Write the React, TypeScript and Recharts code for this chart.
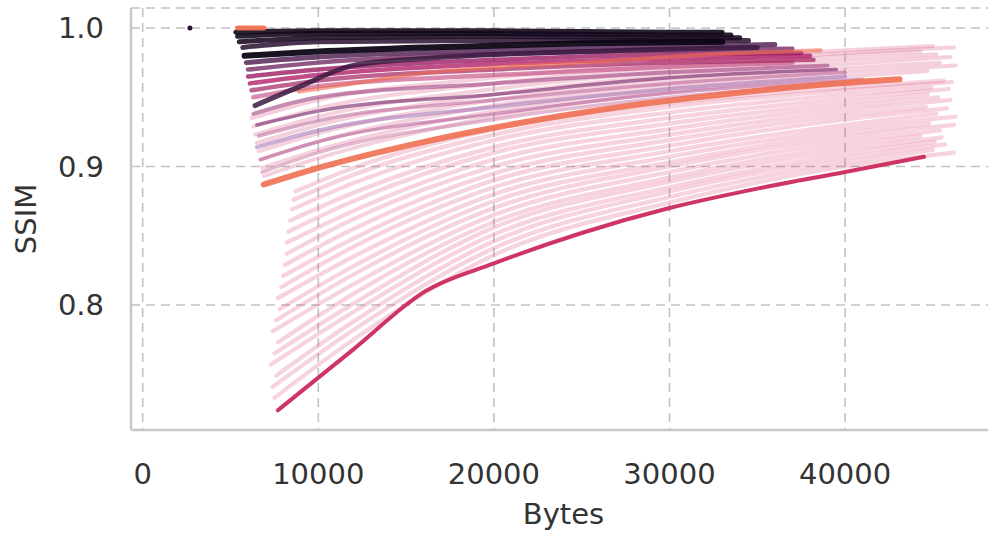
import React from "react";
import { ComposedChart, Line, XAxis, YAxis, CartesianGrid } from "recharts";

type Pt = [number, number]; // [bytes, ssim]

// faint pink runs between the crimson and the orange curve
const lowerRuns: Pt[][] = [
  [[7500, 0.733], [12000, 0.775], [20000, 0.836], [30000, 0.874], [40000, 0.9], [46200, 0.91]],
  [[7400, 0.741], [12000, 0.782], [20000, 0.841], [30000, 0.878], [40000, 0.903], [45000, 0.912]],
  [[7600, 0.749], [12000, 0.788], [20000, 0.846], [30000, 0.882], [40000, 0.906], [45700, 0.916]],
  [[7300, 0.757], [12000, 0.795], [20000, 0.851], [30000, 0.885], [40000, 0.909], [45100, 0.918]],
  [[7500, 0.765], [12000, 0.801], [20000, 0.856], [30000, 0.889], [40000, 0.912], [45500, 0.921]],
  [[7700, 0.773], [12000, 0.808], [20000, 0.86], [30000, 0.892], [40000, 0.915], [44300, 0.922]],
  [[7400, 0.781], [12000, 0.815], [20000, 0.865], [30000, 0.896], [40000, 0.918], [45400, 0.926]],
  [[7600, 0.789], [12000, 0.822], [20000, 0.87], [30000, 0.9], [40000, 0.921], [46200, 0.93]],
  [[7800, 0.797], [12000, 0.828], [20000, 0.875], [30000, 0.903], [40000, 0.924], [44800, 0.931]],
  [[7700, 0.805], [12000, 0.835], [20000, 0.88], [30000, 0.907], [40000, 0.927], [46300, 0.936]],
  [[7900, 0.813], [12000, 0.842], [20000, 0.885], [30000, 0.911], [40000, 0.93], [45200, 0.938]],
  [[8000, 0.821], [12000, 0.848], [20000, 0.89], [30000, 0.915], [40000, 0.934], [45800, 0.942]],
  [[8100, 0.829], [12000, 0.855], [20000, 0.895], [30000, 0.919], [40000, 0.937], [44600, 0.943]],
  [[8200, 0.837], [12000, 0.862], [20000, 0.9], [30000, 0.923], [40000, 0.94], [46000, 0.948]],
  [[8200, 0.845], [12000, 0.868], [20000, 0.905], [30000, 0.927], [40000, 0.943], [45300, 0.95]],
  [[8300, 0.853], [12000, 0.875], [20000, 0.91], [30000, 0.931], [40000, 0.946], [44700, 0.952]],
  [[8400, 0.861], [12000, 0.881], [20000, 0.914], [30000, 0.935], [40000, 0.949], [45900, 0.956]],
  [[8500, 0.869], [12000, 0.888], [20000, 0.919], [30000, 0.939], [40000, 0.952], [44900, 0.957]],
  [[8600, 0.876], [12000, 0.894], [20000, 0.923], [30000, 0.943], [40000, 0.955], [46100, 0.961]],
  [[8700, 0.882], [12000, 0.899], [20000, 0.927], [30000, 0.946], [40000, 0.957], [45600, 0.962]],
];

// pink runs above the orange curve, reaching far right
const upperPinkRuns: Pt[][] = [
  [[6900, 0.893], [10000, 0.906], [20000, 0.936], [30000, 0.954], [40000, 0.965], [44700, 0.969]],
  [[6800, 0.899], [10000, 0.912], [20000, 0.94], [30000, 0.957], [40000, 0.968], [46300, 0.973]],
  [[6700, 0.905], [10000, 0.918], [20000, 0.944], [30000, 0.96], [40000, 0.971], [45400, 0.975]],
  [[6600, 0.911], [10000, 0.924], [20000, 0.948], [30000, 0.963], [40000, 0.974], [46000, 0.979]],
  [[6500, 0.917], [10000, 0.93], [20000, 0.952], [30000, 0.966], [40000, 0.977], [45200, 0.981]],
  [[6400, 0.923], [10000, 0.936], [20000, 0.956], [30000, 0.969], [40000, 0.98], [44300, 0.983]],
  [[6300, 0.929], [10000, 0.942], [20000, 0.96], [30000, 0.972], [40000, 0.982], [46200, 0.986]],
  [[6200, 0.935], [10000, 0.948], [20000, 0.964], [30000, 0.975], [40000, 0.984], [45000, 0.987]],
];

// mauve / purple runs in the middle of the upper cluster
const mauveRuns: Pt[][] = [
  [[6800, 0.896], [10000, 0.91], [20000, 0.934], [30000, 0.95], [42000, 0.961]],
  [[6700, 0.905], [10000, 0.918], [20000, 0.938], [30000, 0.953], [41000, 0.963]],
  [[6500, 0.914], [10000, 0.926], [20000, 0.943], [30000, 0.956], [40000, 0.965]],
  [[6600, 0.922], [10000, 0.933], [20000, 0.948], [30000, 0.96], [40000, 0.968]],
  [[6500, 0.93], [10000, 0.94], [20000, 0.952], [30000, 0.964], [39500, 0.97]],
  [[6300, 0.938], [10000, 0.95], [20000, 0.96], [30000, 0.968], [39000, 0.973]],
];

// magenta / purple / dark runs at the top
const topRuns: Pt[][] = [
  [[6300, 0.95], [10000, 0.958], [20000, 0.966], [30000, 0.972], [37000, 0.975]],
  [[6200, 0.955], [10000, 0.962], [20000, 0.97], [30000, 0.975], [38200, 0.977]],
  [[6100, 0.96], [10000, 0.966], [20000, 0.974], [30000, 0.978], [38000, 0.98]],
  [[6000, 0.965], [10000, 0.97], [20000, 0.977], [30000, 0.981], [37500, 0.982]],
  [[6000, 0.97], [10000, 0.975], [20000, 0.981], [30000, 0.984], [37000, 0.985]],
  [[5900, 0.975], [10000, 0.979], [20000, 0.984], [30000, 0.987], [36000, 0.988]],
  [[5700, 0.986], [10000, 0.99], [20000, 0.991], [30000, 0.991], [34500, 0.991]],
  [[5500, 0.99], [10000, 0.993], [20000, 0.994], [30000, 0.993], [34000, 0.993]],
  [[5400, 0.994], [10000, 0.996], [20000, 0.996], [30000, 0.995], [33500, 0.995]],
  [[5300, 0.997], [10000, 0.998], [20000, 0.998], [30000, 0.997], [33000, 0.997]],
];

const darkPurple: Pt[] = [[6400, 0.944], [9000, 0.958], [12000, 0.973], [16100, 0.978], [25000, 0.983], [35000, 0.986]];
const blackRun: Pt[] = [[5800, 0.98], [10000, 0.983], [16100, 0.986], [25000, 0.989], [33000, 0.99]];
const upperOrange: Pt[] = [[8900, 0.954], [12000, 0.96], [16100, 0.9675], [25000, 0.975], [34000, 0.982], [38600, 0.984]];
const midOrange: Pt[] = [[6900, 0.887], [10000, 0.899], [16100, 0.918], [20000, 0.928], [27200, 0.943], [33000, 0.952], [38600, 0.959], [43100, 0.963]];
const crimson: Pt[] = [[7700, 0.724], [12000, 0.768], [16100, 0.81], [20000, 0.83], [25000, 0.852], [30000, 0.87], [35000, 0.884], [40000, 0.896], [44500, 0.907]];
const topOrange: Pt[] = [[5400, 1.0], [6900, 1.0]];
const lonePoint: Pt[] = [[2690, 1.0]];

const xTicks = [0, 10000, 20000, 30000, 40000];
const yTicks = [0.8, 0.9, 1.0];

// styles, same order as the run lists
const mauveStyle = [
  { c: "#d08ab0", o: 0.6, w: 3.5 },
  { c: "#b8609a", o: 0.6, w: 3.5 },
  { c: "#a87ab6", o: 0.6, w: 4 },
  { c: "#c06a9e", o: 0.6, w: 3.5 },
  { c: "#7e2f72", o: 0.65, w: 3.5 },
  { c: "#a8508a", o: 0.65, w: 4 },
];
const topStyle = [
  { c: "#c0407a", o: 0.6, w: 4.5 },
  { c: "#a3205f", o: 0.7, w: 4.5 },
  { c: "#b0206a", o: 0.8, w: 4.5 },
  { c: "#9c1c62", o: 0.8, w: 4.5 },
  { c: "#6a1d5b", o: 0.75, w: 4.5 },
  { c: "#4b1a4d", o: 0.8, w: 5 },
  { c: "#2a1030", o: 0.85, w: 5 },
  { c: "#1d0c25", o: 0.9, w: 5 },
  { c: "#150a1f", o: 0.9, w: 5 },
  { c: "#120818", o: 0.9, w: 5 },
];

const toRows = (run: Pt[]) => run.map(([bytes, ssim]) => ({ bytes, ssim }));

const X_DOMAIN: [number, number] = [-666, 48595];
const Y_DOMAIN: [number, number] = [0.70975, 1.01444];
const font = "DejaVu Sans";
const frame = { stroke: "#c8c8c8", strokeWidth: 2.5 };

// the plot runs past the right edge of the window, like the original
if (typeof document !== "undefined") {
  document.documentElement.style.overflow = "hidden";
  document.body.style.overflow = "hidden";
}

export default function App() {
  const line = (run: Pt[], key: string, color: string, opacity: number, width: number) => (
    <Line
      key={key}
      data={toRows(run)}
      dataKey="ssim"
      type="monotoneX"
      stroke={color}
      strokeOpacity={opacity}
      strokeWidth={width}
      strokeLinecap="round"
      dot={false}
      activeDot={false}
      legendType="none"
      isAnimationActive={false}
    />
  );

  return (
    <div style={{ position: "absolute", left: 0, top: 0, width: 1000, height: 533, background: "#fff" }}>
      <ComposedChart width={996} height={533} margin={{ top: 8, right: 0, bottom: 0, left: 0 }}>
        <CartesianGrid stroke="#c2c2c2" strokeWidth={1.6} strokeDasharray="9 6" />
        <XAxis
          dataKey="bytes"
          type="number"
          domain={X_DOMAIN}
          ticks={xTicks}
          allowDataOverflow
          axisLine={frame}
          tickLine={false}
          tickSize={0}
          tickMargin={33}
          height={103}
          tick={{ fontSize: 29, fill: "#333", fontFamily: font }}
          label={{ value: "Bytes", position: "insideBottom", offset: 9, fontSize: 29, fill: "#333", fontFamily: font }}
        />
        <XAxis
          xAxisId="top"
          orientation="top"
          type="number"
          domain={X_DOMAIN}
          allowDataOverflow
          height={0}
          axisLine={frame}
          tick={false}
          tickLine={false}
        />
        <YAxis
          type="number"
          domain={Y_DOMAIN}
          ticks={yTicks}
          allowDataOverflow
          tickFormatter={(v: number) => v.toFixed(1)}
          axisLine={frame}
          tickLine={false}
          tickSize={0}
          tickMargin={27}
          width={131}
          tick={{ fontSize: 29, fill: "#333", fontFamily: font }}
          label={{ value: "SSIM", angle: -90, position: "insideLeft", offset: 26, fontSize: 29, fill: "#333", fontFamily: font, style: { textAnchor: "middle" } }}
        />
        {lowerRuns.map((r, i) => line(r, `low${i}`, "#d9456f", 0.24, 4.2))}
        {upperPinkRuns.map((r, i) => line(r, `pink${i}`, "#d65a86", 0.28, 4))}
        {mauveRuns.map((r, i) => line(r, `mv${i}`, mauveStyle[i].c, mauveStyle[i].o, mauveStyle[i].w))}
        {line(midOrange, "midOrange", "#f07052", 0.9, 6)}
        {line(crimson, "crimson", "#cc2a5c", 0.95, 4)}
        {topRuns.map((r, i) => line(r, `top${i}`, topStyle[i].c, topStyle[i].o, topStyle[i].w))}
        {line(upperOrange, "upperOrange", "#ee6a50", 0.6, 4)}
        {line(darkPurple, "darkPurple", "#3a1840", 0.85, 5)}
        {line(blackRun, "black", "#0d0616", 0.95, 6)}
        {line(topOrange, "topOrange", "#f07052", 0.95, 5)}
        <Line
          data={toRows(lonePoint)}
          dataKey="ssim"
          stroke="none"
          dot={{ r: 2.5, fill: "#2a1236", stroke: "none" }}
          activeDot={false}
          legendType="none"
          isAnimationActive={false}
        />
      </ComposedChart>
    </div>
  );
}
